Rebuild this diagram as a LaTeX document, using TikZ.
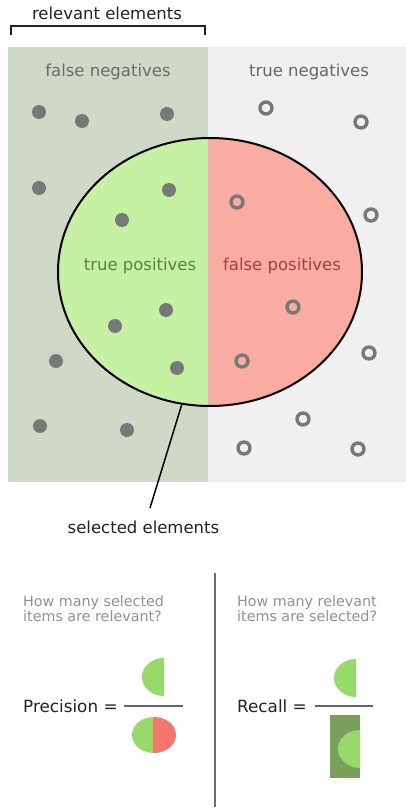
\documentclass[tikz,border=0pt]{standalone}
\usepackage{fontspec}
\setmainfont{DejaVu Sans}
\usetikzlibrary{shapes.geometric}
\definecolor{fnbg}{RGB}{208,216,200}
\definecolor{tnbg}{RGB}{240,240,240}
\definecolor{tpfill}{RGB}{198,240,162}
\definecolor{fpfill}{RGB}{250,172,162}
\definecolor{dotgray}{RGB}{118,122,118}
\definecolor{labgray}{RGB}{105,110,100}
\definecolor{tptext}{RGB}{80,135,60}
\definecolor{fptext}{RGB}{160,65,65}
\definecolor{qgray}{RGB}{145,145,145}
\definecolor{mgreen}{RGB}{150,218,108}
\definecolor{mred}{RGB}{244,118,106}
\definecolor{dgreen}{RGB}{122,160,92}
\definecolor{inkdark}{RGB}{35,35,35}
\tikzset{
  bigtext/.style={inner sep=0pt, text=inkdark, font=\fontsize{16.5}{19}\selectfont},
  labtext/.style={inner sep=0pt, font=\fontsize{16.5}{19}\selectfont},
  qtext/.style={inner sep=0pt, text=qgray, align=left, anchor=west, font=\fontsize{14.3}{15}\selectfont},
  eqtext/.style={inner sep=0pt, text=inkdark, anchor=west, font=\fontsize{16.8}{19}\selectfont},
  fulldot/.style={fill=dotgray},
  ringdot/.style={draw=dotgray, line width=3.4pt},
  fracbar/.style={draw=gray!80!black, line width=1.1pt},
}
\begin{document}
\begin{tikzpicture}[x=1pt,y=-1pt]
\useasboundingbox (0,0) rectangle (406,810);
\fill[white] (0,0) rectangle (406,810);
% background regions
\fill[fnbg] (8,47) rectangle (208,482);
\fill[tnbg] (208,47) rectangle (406,482);
% bracket
\draw[inkdark, line width=1.4pt] (11,35) -- (11,26) -- (205,26) -- (205,35);
\node[bigtext] (rel) at (107,13) {relevant elements};
\node[labtext, text=labgray] (fn) at (108,72) {false negatives};
\node[labtext, text=gray!80!black] (tn) at (309,72) {true negatives};
% selected ellipse fills
\begin{scope}
  \clip (0,0) rectangle (208,810);
  \fill[tpfill] (210,272) ellipse [x radius=152, y radius=134];
\end{scope}
\begin{scope}
  \clip (208,0) rectangle (406,810);
  \fill[fpfill] (210,272) ellipse [x radius=152, y radius=134];
\end{scope}
\node[draw=black, line width=2pt, ellipse, minimum width=304, minimum height=268, inner sep=0pt, outer sep=0pt] (sel) at (210,272) {};
\node[labtext, text=tptext] (tp) at (140,266) {true positives};
\node[labtext, text=fptext] (fp) at (282,266) {false positives};
% relevant elements (filled dots)
\foreach \p in {(39,112),(82,121),(167,114),(39,188),(169,190),(122,220),
                (166,310),(115,326),(56,361),(177,368),(40,426),(127,430)}
  \fill[fulldot] \p circle (7);
% non-relevant elements (rings)
\foreach \p in {(266,108),(361,122),(237,202),(371,215),
                (293,307),(242,361),(369,353),(303,419),(244,448),(358,449)}
  \draw[ringdot] \p circle (6);
% pointer
\node[bigtext] (selt) at (143.5,527) {selected elements};
\coordinate (pend) at (150,508);
\draw[black, line width=1.5pt] (sel.-102) -- (pend);
% divider
\draw[gray!85!black, line width=1.3pt] (215,573) -- (215,807);
% questions
\node[qtext] (q1) at (23,609) {How many selected\\items are relevant?};
\node[qtext] (q2) at (237,609) {How many relevant\\items are selected?};
% precision
\node[eqtext] (prec) at (23,706) {Precision =};
\draw[fracbar] (124,706) -- (183,706);
\fill[mgreen] (164,696) arc[start angle=90, end angle=270, x radius=22, y radius=19] -- cycle;
\begin{scope}
  \clip (100,700) rectangle (153,770);
  \fill[mgreen] (154,735) ellipse [x radius=22, y radius=18];
\end{scope}
\begin{scope}
  \clip (153,700) rectangle (200,770);
  \fill[mred] (154,735) ellipse [x radius=22, y radius=18];
\end{scope}
% recall
\node[eqtext] (rec) at (237,706) {Recall =};
\draw[fracbar] (315,706) -- (373,706);
\fill[mgreen] (356,697) arc[start angle=90, end angle=270, x radius=22, y radius=19] -- cycle;
\fill[dgreen] (330,715) rectangle (360,778);
\fill[mgreen] (360,768) arc[start angle=90, end angle=270, x radius=22, y radius=19] -- cycle;
\end{tikzpicture}
\end{document}
